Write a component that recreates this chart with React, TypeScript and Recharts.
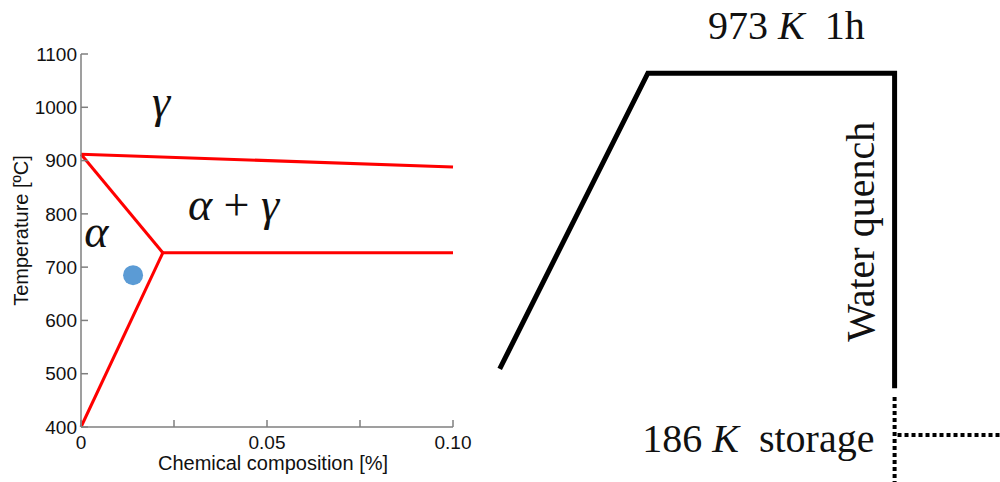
import { ComposedChart, LineChart, Line, Scatter, XAxis, YAxis, ReferenceDot } from 'recharts'

// phase diagram (left)
const compTicks = [0, 0.025, 0.05, 0.075, 0.1]
const compTopTicks = [0.025, 0.05, 0.075]
const compTickLabels: Record<string, string> = { '0': '0', '0.05': '0.05', '0.1': '0.10' }
const tempTicks = [400, 500, 600, 700, 800, 900, 1000, 1100]

const upperLine = [{ c: 0, t: 912 }, { c: 0.1, t: 888 }]
const a3Line = [{ c: 0, t: 912 }, { c: 0.022, t: 727 }]
const a1Line = [{ c: 0.022, t: 727 }, { c: 0.1, t: 727 }]
const lowerLine = [{ c: 0, t: 400 }, { c: 0.022, t: 727 }]
const sample = [{ c: 0.014, t: 685 }]

const phaseLabels = [
  { c: 0.0215, t: 982, parts: ['γ'] },
  { c: 0.041, t: 789, parts: ['α', ' + ', 'γ'] },
  { c: 0.0041, t: 738, parts: ['α'] },
]

// heat treatment (right), hours vs kelvin
const heatCycle = [{ h: 0, k: 330 }, { h: 0.61, k: 973 }, { h: 1.626, k: 973 }, { h: 1.626, k: 288 }]
const quenchTail = [{ h: 1.626, k: 269 }, { h: 1.626, k: 84 }]
const storage = [{ h: 1.638, k: 186 }, { h: 2.06, k: 186 }]

const sans = 'Liberation Sans, Arial, sans-serif'
const serif = 'Liberation Serif, Times New Roman, serif'
const frame = '#7f7f7f'
const ink = '#111'

const PhaseLabel = ({ viewBox, parts }: any) => (
  <text
    x={viewBox.x + viewBox.width / 2}
    y={viewBox.y + viewBox.height / 2}
    textAnchor='middle'
    fontFamily={serif}
    fontSize={46}
    fill={ink}
  >
    {parts.map((p: string, i: number) =>
      p.trim() === '+' ? (
        <tspan key={i} fontStyle='normal'>{'\u00a0+\u00a0'}</tspan>
      ) : (
        <tspan key={i} fontStyle='italic'>{p}</tspan>
      )
    )}
  </text>
)

const PhaseDiagram = () => (
  <ComposedChart width={484} height={482} margin={{ top: 54, right: 31, bottom: 0, left: 0 }}>
    <XAxis
      dataKey='c'
      type='number'
      domain={[0, 0.1]}
      ticks={compTicks}
      interval={0}
      tickFormatter={(v: number) => compTickLabels[String(v)] ?? ''}
      tickSize={-7}
      tickMargin={16}
      height={55}
      stroke={frame}
      strokeWidth={1.5}
      tick={{ fill: ink, fontSize: 19, fontFamily: sans }}
      label={{
        content: ({ viewBox }: any) => (
          <text x={viewBox.x + viewBox.width / 2 + 6} y={470} textAnchor='middle' fontFamily={sans} fontSize={20} fill={ink}>
            Chemical composition [%]
          </text>
        ),
      }}
    />
    <XAxis
      xAxisId='top'
      orientation='top'
      dataKey='c'
      type='number'
      domain={[0, 0.1]}
      ticks={compTopTicks}
      interval={0}
      tickFormatter={() => ''}
      tickSize={-7}
      height={0}
      stroke={frame}
      strokeWidth={1.5}
    />
    <YAxis
      dataKey='t'
      type='number'
      domain={[400, 1100]}
      ticks={tempTicks}
      interval={0}
      tickSize={-7}
      tickMargin={11}
      width={81}
      stroke={frame}
      strokeWidth={1.5}
      tick={{ fill: ink, fontSize: 19, fontFamily: sans }}
      label={{
        content: ({ viewBox }: any) => (
          <text
            transform={`translate(${viewBox.x + 28},${viewBox.y + viewBox.height / 2 - 10}) rotate(-90)`}
            textAnchor='middle'
            fontFamily={sans}
            fontSize={20}
            fill={ink}
          >
            Temperature [ºC]
          </text>
        ),
      }}
    />
    <YAxis
      yAxisId='right'
      orientation='right'
      type='number'
      domain={[400, 1100]}
      ticks={tempTicks}
      interval={0}
      tickFormatter={() => ''}
      tickSize={-7}
      width={0}
      stroke={frame}
      strokeWidth={1.5}
    />
    {[upperLine, a3Line, a1Line, lowerLine].map((seg, i) => (
      <Line
        key={i}
        data={seg}
        dataKey='t'
        stroke='#ff0000'
        strokeWidth={3}
        dot={false}
        activeDot={false}
        isAnimationActive={false}
      />
    ))}
    <Scatter
      data={sample}
      dataKey='t'
      fill='#5b9bd5'
      isAnimationActive={false}
      shape={(p: any) => <circle cx={p.cx} cy={p.cy} r={10} fill='#5b9bd5' />}
    />
    {phaseLabels.map((l, i) => (
      <ReferenceDot
        key={i}
        x={l.c}
        y={l.t}
        r={0}
        fill='none'
        stroke='none'
        label={{ content: (props: any) => <PhaseLabel {...props} parts={l.parts} /> }}
      />
    ))}
  </ComposedChart>
)

const HeatTreatment = () => (
  <LineChart width={510} height={482} margin={{ top: 0, right: 0, bottom: 0, left: 0 }}>
    <XAxis dataKey='h' type='number' domain={[-0.04, 2.06]} hide allowDataOverflow />
    <YAxis dataKey='k' type='number' domain={[84, 1132]} hide allowDataOverflow />
    <Line data={heatCycle} dataKey='k' stroke='#000' strokeWidth={5} dot={false} activeDot={false} isAnimationActive={false} />
    <Line data={quenchTail} dataKey='k' stroke='#000' strokeWidth={4} strokeDasharray='4 3' dot={false} activeDot={false} isAnimationActive={false} />
    <Line data={storage} dataKey='k' stroke='#000' strokeWidth={4} strokeDasharray='4 3' dot={false} activeDot={false} isAnimationActive={false} />
    <ReferenceDot
      x={1.18}
      y={1047}
      r={0}
      fill='none'
      stroke='none'
      label={{
        content: ({ viewBox }: any) => (
          <text x={viewBox.x} y={viewBox.y} textAnchor='middle' fontFamily={serif} fontSize={40} fill={ink}>
            973{'\u00a0'}<tspan fontStyle='italic'>K</tspan>{'\u00a0\u00a0'}1h
          </text>
        ),
      }}
    />
    <ReferenceDot
      x={1.543}
      y={149}
      r={0}
      fill='none'
      stroke='none'
      label={{
        content: ({ viewBox }: any) => (
          <text x={viewBox.x} y={viewBox.y} textAnchor='end' fontFamily={serif} fontSize={40} fill={ink}>
            186{'\u00a0'}<tspan fontStyle='italic'>K</tspan>{'\u00a0\u00a0'}storage
          </text>
        ),
      }}
    />
    <ReferenceDot
      x={1.541}
      y={628}
      r={0}
      fill='none'
      stroke='none'
      label={{
        content: ({ viewBox }: any) => (
          <text
            transform={`translate(${viewBox.x},${viewBox.y}) rotate(-90)`}
            textAnchor='middle'
            fontFamily={serif}
            fontSize={40}
            fill={ink}
          >
            Water quench
          </text>
        ),
      }}
    />
  </LineChart>
)

export default function App() {
  return (
    <div style={{ position: 'absolute', left: 0, top: 0, width: 1000, height: 482, background: '#fff', overflow: 'hidden' }}>
      <div style={{ position: 'absolute', left: 490, top: 0 }}>
        <HeatTreatment />
      </div>
      <div style={{ position: 'absolute', left: 0, top: 0 }}>
        <PhaseDiagram />
      </div>
    </div>
  )
}
